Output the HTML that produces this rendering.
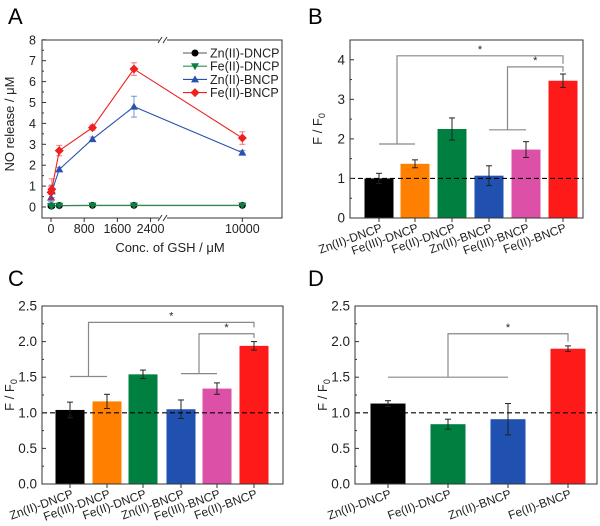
<!DOCTYPE html>
<html><head><meta charset="utf-8">
<style>
body{margin:0;background:#fff;}
svg{display:block;font-family:"Liberation Sans",Arial,sans-serif;}
</style></head>
<body>
<svg id="fig" width="600" height="526" viewBox="0 0 600 526">
<text x="8" y="24" font-size="22">A</text>
<text x="308" y="24" font-size="22">B</text>
<text x="8" y="286" font-size="22">C</text>
<text x="308" y="286" font-size="22">D</text>
</svg>
<script>
// ---- Panel A data ----
const gshConc = [0, 20, 200, 1000, 2000, 10000];
const znDncp = [0.05, 0.05, 0.07, 0.08, 0.08, 0.08];
const feDncp = [0.04, 0.04, 0.06, 0.07, 0.07, 0.07];
const znBncp = [0.45, 0.75, 1.8, 3.25, 4.8, 2.6];
const znBncpErr = [0.2, 0.3, 0.1, 0.1, 0.5, 0.1];
const feBncp = [0.7, 0.85, 2.7, 3.8, 6.6, 3.3];
const feBncpErr = [0.3, 0.5, 0.25, 0.12, 0.3, 0.3];
const aYTicks = [0,1,2,3,4,5,6,7,8];
const aXTicks = [0, 800, 1600, 2400, 10000];
// ---- Panel B data ----
const bCats = ["Zn(II)-DNCP","Fe(III)-DNCP","Fe(II)-DNCP","Zn(II)-BNCP","Fe(III)-BNCP","Fe(II)-BNCP"];
const bVals = [1.0, 1.37, 2.25, 1.07, 1.73, 3.47];
const bErr = [0.13, 0.1, 0.28, 0.25, 0.2, 0.17];
const bYTicks = [0,1,2,3,4];
// ---- Panel C data ----
const cCats = ["Zn(II)-DNCP","Fe(III)-DNCP","Fe(II)-DNCP","Zn(II)-BNCP","Fe(III)-BNCP","Fe(II)-BNCP"];
const cVals = [1.04, 1.16, 1.54, 1.05, 1.34, 1.94];
const cErr = [0.11, 0.1, 0.06, 0.13, 0.08, 0.06];
const cYTicks = ["0.0","0.5","1.0","1.5","2.0","2.5"];
// ---- Panel D data ----
const dCats = ["Zn(II)-DNCP","Fe(II)-DNCP","Zn(II)-BNCP","Fe(II)-BNCP"];
const dVals = [1.13, 0.84, 0.91, 1.9];
const dErr = [0.04, 0.07, 0.22, 0.04];
const dYTicks = ["0.0","0.5","1.0","1.5","2.0","2.5"];

const colors6 = ["#000000","#ff8000","#008040","#2050b0","#dd50a8","#ff1a1a"];
const colors4 = ["#000000","#008040","#2050b0","#ff1a1a"];
const NS = "http://www.w3.org/2000/svg";
const svg = document.getElementById("fig");
function mk(tag, attrs, parent, text){
  const e = document.createElementNS(NS, tag);
  for (const k in attrs) e.setAttribute(k, attrs[k]);
  if (text !== undefined) e.textContent = text;
  (parent || svg).appendChild(e);
  return e;
}

// ================= Panel A =================
(function(){
  const L=42,R=282,T=40,B=218;
  const y = v => 207 - v*20.9;
  const x = v => v <= 2700 ? 51 + v*(112/2700) : 163 + (v-8000)*(119/3000);
  const g = mk("g",{}); 
  
  
  const fr = mk("rect",{x:L,y:T,width:R-L,height:B-T,fill:"none",stroke:"#333","stroke-width":1},g);
  
  
  [[T],[B]].forEach(([yy])=>{
    mk("rect",{x:159,y:yy-3,width:8,height:6,fill:"#fff"},g);
    mk("line",{x1:158,y1:yy+3,x2:162,y2:yy-3,stroke:"#333"},g);
    mk("line",{x1:163,y1:yy+3,x2:167,y2:yy-3,stroke:"#333"},g);
  });
  aYTicks.forEach(t=>{
    mk("line",{x1:L,y1:y(t),x2:L+4,y2:y(t),stroke:"#333"},g);
    if(t<8) mk("line",{x1:L,y1:y(t+0.5),x2:L+2,y2:y(t+0.5),stroke:"#333"},g);
    const tl = mk("text",{x:L-6,y:y(t)+4.5,"font-size":12.5,"text-anchor":"end",fill:"#222"},g,String(t));
    
    
  });
  aXTicks.forEach(t=>{
    mk("line",{x1:x(t),y1:B,x2:x(t),y2:B+4,stroke:"#333"},g);
    const tl = mk("text",{x:x(t),y:B+15,"font-size":12.5,"text-anchor":"middle",fill:"#222"},g,String(t));
    
    
  });
  const yt = mk("text",{transform:"translate(14,124) rotate(-90)","font-size":13,"text-anchor":"middle",fill:"#222"},g,"NO release / μM");
  
  
  const xt = mk("text",{x:170,y:252,"font-size":13,"text-anchor":"middle",fill:"#222"},g,"Conc. of GSH / μM");
  
  

  const series = [
    {name:"Zn(II)-DNCP",vals:znDncp,err:null,color:"#000",mark:"circle",lc:"#555"},
    {name:"Fe(II)-DNCP",vals:feDncp,err:null,color:"#0a8040",mark:"tri-down",lc:"#2a9050"},
    {name:"Zn(II)-BNCP",vals:znBncp,err:znBncpErr,color:"#2850b0",mark:"tri-up",lc:"#2850b0"},
    {name:"Fe(II)-BNCP",vals:feBncp,err:feBncpErr,color:"#ee2020",mark:"diamond",lc:"#ee2020"}
  ];
  function marker(m,cx,cy,color,parent){
    if(m==="circle") return mk("circle",{cx,cy,r:3.5,fill:color},parent);
    if(m==="tri-down") return mk("polygon",{points:`${cx-4},${cy-3} ${cx+4},${cy-3} ${cx},${cy+4}`,fill:color},parent);
    if(m==="tri-up") return mk("polygon",{points:`${cx-4},${cy+3} ${cx+4},${cy+3} ${cx},${cy-4}`,fill:color},parent);
    return mk("polygon",{points:`${cx},${cy-4.5} ${cx+4.5},${cy} ${cx},${cy+4.5} ${cx-4.5},${cy}`,fill:color},parent);
  }
  series.forEach((s,si)=>{
    const sg = mk("g",{},g);
    
    
    const pts = gshConc.map((c,i)=>x(c)+","+y(s.vals[i])).join(" ");
    mk("polyline",{points:pts,fill:"none",stroke:s.lc,"stroke-width":1.1},sg);
    gshConc.forEach((c,i)=>{
      if(s.err){
        const cx=x(c), y1=y(s.vals[i]+s.err[i]), y2=y(s.vals[i]-s.err[i]);
        mk("line",{x1:cx,y1:y1,x2:cx,y2:y2,stroke:s.color,"stroke-opacity":0.6},sg);
        mk("line",{x1:cx-3,y1:y1,x2:cx+3,y2:y1,stroke:s.color,"stroke-opacity":0.6},sg);
        mk("line",{x1:cx-3,y1:y2,x2:cx+3,y2:y2,stroke:s.color,"stroke-opacity":0.6},sg);
      }
      const p = marker(s.mark,x(c),y(s.vals[i]),s.color,sg);
      
      
    });
    const ly = 53 + si*13.2;
    const lg = mk("g",{},g);
    
    
    mk("line",{x1:183,y1:ly,x2:207,y2:ly,stroke:s.lc,"stroke-width":1.1},lg);
    marker(s.mark,195,ly,s.color,lg);
    mk("text",{x:210,y:ly+4.5,"font-size":12.5,fill:"#222"},lg,s.name);
  });
})();

// ============ Bar panel helper ============
function barPanel(opts){
  const {L,R,T,B,ymax,cats,vals,err,colors,ticks,tickStep,minorStep,barW,centers,name,brackets,labelSize} = opts;
  const y = v => B - v*(B-T)/ymax;
  const g = mk("g",{});
  
  
  cats.forEach((c,i)=>{
    const cx = centers[i];
    const r = mk("rect",{x:cx-barW/2,y:y(vals[i]),width:barW,height:B-y(vals[i]),fill:colors[i]},g);
    
    
    const y1=y(vals[i]+err[i]), y2=y(vals[i]-err[i]);
    const eg = mk("g",{stroke:"#222","stroke-width":1},g);
    
    
    mk("line",{x1:cx,y1:y1,x2:cx,y2:y2},eg);
    mk("line",{x1:cx-3,y1:y1,x2:cx+3,y2:y1},eg);
    mk("line",{x1:cx-3,y1:y2,x2:cx+3,y2:y2},eg);
    mk("line",{x1:cx,y1:B,x2:cx,y2:B+4,stroke:"#333"},g);
    const tl = mk("text",{transform:`translate(${cx+4},${B+13}) rotate(-20)`,"font-size":labelSize,"text-anchor":"end",fill:"#222"},g,c);
    
    
  });
  const dl = mk("line",{x1:L,y1:y(1),x2:R,y2:y(1),stroke:"#000","stroke-dasharray":"5,3","stroke-width":1.1},g);
  
  
  const fr = mk("rect",{x:L,y:T,width:R-L,height:B-T,fill:"none",stroke:"#333","stroke-width":1},g);
  
  
  ticks.forEach((t,i)=>{
    const v = i*tickStep;
    mk("line",{x1:L,y1:y(v),x2:L+4,y2:y(v),stroke:"#333"},g);
    const tl = mk("text",{x:L-5,y:y(v)+4.5,"font-size":13.5,"text-anchor":"end",fill:"#222"},g,t);
    
    
  });
  for(let v=minorStep; v<ymax; v+=tickStep){
    mk("line",{x1:L,y1:y(v),x2:L+2,y2:y(v),stroke:"#333"},g);
  }
  const yt = mk("text",{transform:`translate(${L-28},${(T+B)/2}) rotate(-90)`,"font-size":13,"text-anchor":"middle",fill:"#222"},g);
  
  
  yt.innerHTML = 'F / F<tspan font-size="9" dy="3">0</tspan>';
  brackets.forEach(b=>{
    const bg = mk("g",{stroke:"#888","stroke-width":1.2,fill:"none"},g);
    
    
    mk("line",{x1:centers[b.from[0]],y1:y(b.base),x2:centers[b.from[1]],y2:y(b.base)},bg);
    const mx = (centers[b.from[0]]+centers[b.from[1]])/2;
    mk("polyline",{points:`${mx},${y(b.base)} ${mx},${y(b.top)} ${centers[b.to]},${y(b.top)} ${centers[b.to]},${y(b.end)}`},bg);
    const st = mk("text",{x:(mx+centers[b.to])/2,y:y(b.top)-3,"font-size":11,"text-anchor":"middle",fill:"#222",stroke:"none"},bg,"*");
    
    
  });
}

barPanel({L:350,R:583,T:40,B:218,ymax:4.5,cats:bCats,vals:bVals,err:bErr,colors:colors6,
  ticks:bYTicks.map(String),tickStep:1,minorStep:0.5,barW:29,centers:[379,415,452,489,526,563],
  name:"panel-b-bar-chart",labelSize:12,
  brackets:[{from:[0,1],base:1.87,top:4.1,to:5,end:3.9},{from:[3,4],base:2.23,top:3.82,to:5,end:3.7}]});

barPanel({L:42,R:283,T:306,B:484,ymax:2.5,cats:cCats,vals:cVals,err:cErr,colors:colors6,
  ticks:cYTicks,tickStep:0.5,minorStep:0.25,barW:29,centers:[70,107,143,181,217,254],
  name:"panel-c-bar-chart",labelSize:12,
  brackets:[{from:[0,1],base:1.51,top:2.27,to:5,end:2.2},{from:[3,4],base:1.55,top:2.11,to:5,end:2.05}]});

barPanel({L:355,R:597,T:306,B:484,ymax:2.5,cats:dCats,vals:dVals,err:dErr,colors:colors4,
  ticks:dYTicks,tickStep:0.5,minorStep:0.25,barW:35,centers:[388,448,508,568],
  name:"panel-d-bar-chart",labelSize:12,
  brackets:[{from:[0,2],base:1.5,top:2.11,to:3,end:2.0}]});
</script>
</body></html>
